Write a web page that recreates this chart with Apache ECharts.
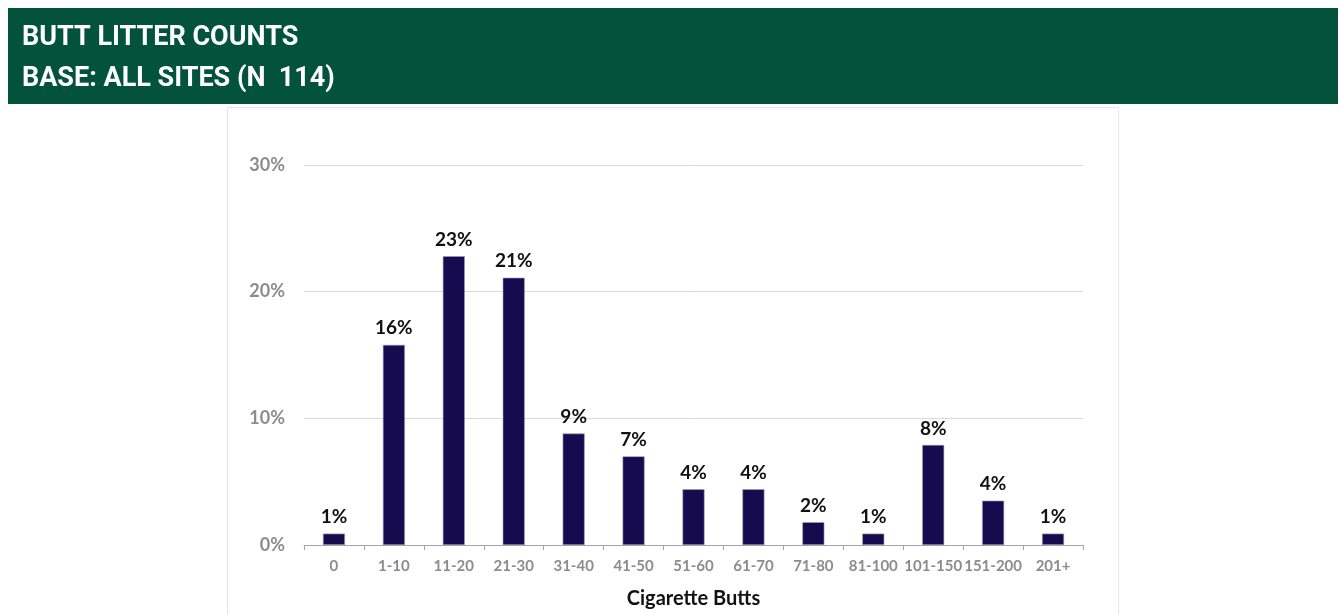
<!DOCTYPE html>
<html>
<head>
<meta charset="utf-8">
<script src="https://cdn.jsdelivr.net/npm/echarts@6/dist/echarts.min.js"></script>
<style>
  html, body { margin: 0; padding: 0; background: #ffffff; }
  #chart { width: 1340px; height: 614px; }
</style>
</head>
<body>
<div id="chart"></div>
<script>
// Share of sites (%) by number of cigarette butts counted
const categories = ['0', '1-10', '11-20', '21-30', '31-40', '41-50', '51-60', '61-70', '71-80', '81-100', '101-150', '151-200', '201+'];
const sharePct = [0.9, 15.8, 22.8, 21.1, 8.8, 7.0, 4.4, 4.4, 1.8, 0.9, 7.9, 3.5, 0.9];
const yTicks = [0, 10, 20, 30];

const titleLines = ['BUTT LITTER COUNTS', 'BASE: ALL SITES (N  114)'];
const xAxisName = 'Cigarette Butts';

const chart = echarts.init(document.getElementById('chart'), null, { renderer: 'canvas' });

chart.setOption({
  animation: false,
  backgroundColor: '#ffffff',
  graphic: [
    {
      type: 'rect',
      z: -1,
      shape: { x: 8, y: 8, width: 1330, height: 96 },
      style: { fill: '#03533A' }
    },
    {
      type: 'rect',
      z: -1,
      shape: { x: 227.5, y: 107.5, width: 891, height: 520 },
      style: { fill: 'none', stroke: '#e6e6e6', lineWidth: 1 }
    }
  ],
  title: {
    text: titleLines.join('\n'),
    left: 22,
    top: 18,
    padding: 0,
    textStyle: {
      color: '#ffffff',
      fontFamily: 'Roboto',
      fontWeight: 'bold',
      fontSize: 27,
      lineHeight: 41
    }
  },
  grid: {
    left: 304,
    right: 257,
    top: 165,
    bottom: 68,
    containLabel: false
  },
  xAxis: {
    type: 'category',
    data: categories,
    name: xAxisName,
    nameLocation: 'middle',
    nameGap: 44,
    nameTextStyle: {
      color: '#111111',
      fontFamily: 'Lato',
      fontWeight: 'bold',
      fontSize: 20
    },
    axisLine: { show: true, lineStyle: { color: '#a6a6a6', width: 1 } },
    axisTick: { show: true, alignWithLabel: false, length: 5, lineStyle: { color: '#a6a6a6' } },
    axisLabel: {
      color: '#8c8c8c',
      fontFamily: 'Lato',
      fontWeight: 'bold',
      fontSize: 15,
      margin: 14,
      interval: 0
    }
  },
  yAxis: {
    type: 'value',
    min: yTicks[0],
    max: yTicks[yTicks.length - 1],
    interval: 10,
    axisLine: { show: false },
    axisTick: { show: false },
    splitLine: { show: true, lineStyle: { color: '#d9d9d9', width: 1 } },
    axisLabel: {
      color: '#8c8c8c',
      fontFamily: 'Lato',
      fontWeight: 'bold',
      fontSize: 18,
      margin: 19,
      formatter: v => v + '%'
    }
  },
  series: [
    {
      type: 'bar',
      data: sharePct,
      barWidth: 22,
      itemStyle: {
        color: '#170B4F',
        borderColor: '#9d9bb8',
        borderWidth: 0.6
      },
      label: {
        show: true,
        position: 'top',
        distance: 7,
        color: '#111111',
        fontFamily: 'Lato',
        fontWeight: 'bold',
        fontSize: 19,
        formatter: p => Math.round(p.value) + '%'
      }
    }
  ]
});
</script>
</body>
</html>
